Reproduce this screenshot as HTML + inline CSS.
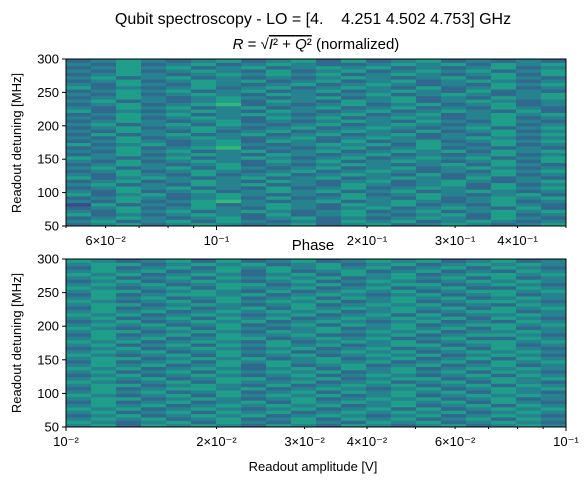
<!DOCTYPE html>
<html><head><meta charset="utf-8"><style>
body{margin:0;background:#fff;}
svg{display:block;font-family:"Liberation Sans","DejaVu Sans",sans-serif;}
</style></head><body>
<svg id="fig" width="588" height="485" viewBox="0 0 588 485">
<text x="313" y="24" font-size="16" text-anchor="middle" style="white-space:pre">Qubit spectroscopy - LO = [4.    4.251 4.502 4.753] GHz</text>
<text x="316" y="49" font-size="15" text-anchor="middle"><tspan font-style="italic">R</tspan> = √<tspan text-decoration="overline"><tspan font-style="italic">I</tspan>² + <tspan font-style="italic">Q</tspan>²</tspan> (normalized)</text>
<text x="313" y="250" font-size="15" text-anchor="middle">Phase</text>
<g id="top"></g>
<g id="bot"></g>
<text x="313" y="471" font-size="13" text-anchor="middle">Readout amplitude [V]</text>
<text transform="translate(21,143) rotate(-90)" font-size="13" text-anchor="middle">Readout detuning [MHz]</text>
<text transform="translate(21,343) rotate(-90)" font-size="13" text-anchor="middle">Readout detuning [MHz]</text>
</svg>
<script>
const viridis=["#440154","#482878","#3e4989","#31688e","#26828e","#1f9e89","#35b779","#6ece58","#b5de2b","#fde725"];
const yTicks=[50,100,150,200,250,300];
const topXTicks=[0.06,0.1,0.2,0.3,0.4];
const topXLabels=["6×10⁻²","10⁻¹","2×10⁻¹","3×10⁻¹","4×10⁻¹"];
const botXTicks=[0.01,0.02,0.03,0.04,0.06,0.1];
const botXLabels=["10⁻²","2×10⁻²","3×10⁻²","4×10⁻²","6×10⁻²","10⁻¹"];
const topRows=[
"34534543453453454345","45345354343545345434","34543453453434543543","53434543534543453534",
"43545345434534534545","34534543543453454353","25343534543545343543","43534564345345434534",
"34543453534543534545","53453454343534543453","43534534545345345434","34545343534534543545",
"45343545343543453534","34534543543453454345","53454345345345435343","43543534534543534534",
"34534543453454343545","45345354345345345434","34543453434543453543","43534543545345434535",
"54345345434534545345","34534543543453434534","43545345345345453545","34534563434534534343",
"53453454345453543534","34543453543534534545","43534543453454345434","35345345345345343545",
"43543534534543534534","34534543453454345345","45345354345345434534","34543453434543543543",
"43534543545345434534","34545345434534534545","53434543543453454353","43545345345345343543",
"34534563434534534534","45343453543545345434","34543454345345343545","43534543543453454345",
"34545345345345435343","53434534534543534534","43543543453454343545","34534545345345345434",
"45345343434543453543","34543454545345434535","43534543534534545345","34545345345453434534",
"43534534543345453545","34543453453534534343"];
const botRows=[
"45354543543543453454","54345354354354534543","45453453453545345354","34534545345434534543",
"45345354534545453454","54534543453453534545","45453454545345345354","35345345354545453543",
"45534543453454534534","54345354545345345454","45453453453545453543","35345545345434534545",
"45534543534545345354","54345354453453453543","45453455345345534545","34534543453454345354",
"45345354545345453543","54534543453545345454","45453453534534534534","35345354545453453545",
"45534545345345345354","54345353453454534543","45453454534545345454","34534543453453453543",
"45345354545345534534","54534543534545345545","45453455345453453354","35345354453345345543",
"45534543545454534454","54345354345345453534","45453453453545345545","34534545345434534354",
"45345354534545453543","54534543453453534454","45453454545345345534","35345345354545453545",
"45534543453454534354","54345354545345345543","45453453453545453454","35345545345434534534",
"45534543534545345545","54345354453453453354","45453455345345534543","34534543453454345454",
"45345354545345453534","54534543453545345545","45453453534534534354","35345354545453453543",
"45534545345345345454","54345353453454534534"];
const NS="http://www.w3.org/2000/svg";
const AX={x0:66,x1:566};
function mk(tag,attrs,parent){const e=document.createElementNS(NS,tag);for(const k in attrs)e.setAttribute(k,attrs[k]);parent.appendChild(e);return e;}
function drawAxes(g,y0,y1,xmin,xmax,rows,xt,xl){
  const sx=v=>AX.x0+(Math.log10(v)-Math.log10(xmin))/(Math.log10(xmax)-Math.log10(xmin))*(AX.x1-AX.x0);
  const sy=v=>y1-(v-50)/(300-50)*(y1-y0);
  const nr=rows.length,nc=rows[0].length;
  const lx0=Math.log10(xmin),lx1=Math.log10(xmax);
  for(let r=0;r<nr;r++){for(let c=0;c<nc;c++){
    const a=Math.pow(10,lx0+(lx1-lx0)*c/nc),b=Math.pow(10,lx0+(lx1-lx0)*(c+1)/nc);
    const v0=50+250*r/nr,v1=50+250*(r+1)/nr;
    const rect=mk("rect",{x:sx(a),y:sy(v1),width:sx(b)-sx(a)+0.5,height:sy(v0)-sy(v1)+0.5,fill:viridis[+rows[r][c]]},g);
    
    
  }}
  mk("rect",{x:AX.x0,y:y0,width:AX.x1-AX.x0,height:y1-y0,fill:"none",stroke:"#000","stroke-width":1},g);
  yTicks.forEach(t=>{const y=sy(t);mk("line",{x1:AX.x0-4,x2:AX.x0,y1:y,y2:y,stroke:"#000"},g);
    const tx=mk("text",{x:AX.x0-7,y:y+4.5,"font-size":13,"text-anchor":"end"},g);tx.textContent=t;
    
    });
  for(let d=Math.floor(lx0);d<=Math.ceil(lx1);d++)for(let m=1;m<10;m++){const v=m*Math.pow(10,d);
    if(v<xmin*0.999||v>xmax*1.001)continue;const x=sx(v);
    mk("line",{x1:x,x2:x,y1:y1,y2:y1+(m==1?4:2),stroke:"#000"},g);}
  xt.forEach((t,i)=>{const x=sx(t);
    const tx=mk("text",{x:x,y:y1+19,"font-size":13,"text-anchor":"middle"},g);tx.textContent=xl[i];
    
    });
}
drawAxes(document.getElementById("top"),59,226,0.05,0.5,topRows,topXTicks,topXLabels);
drawAxes(document.getElementById("bot"),259,427,0.01,0.1,botRows,botXTicks,botXLabels);
</script>
</body></html>
